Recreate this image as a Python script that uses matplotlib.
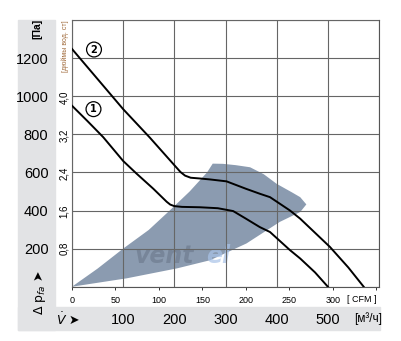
import matplotlib
matplotlib.use("Agg")
import matplotlib.pyplot as plt
from matplotlib.patches import Rectangle, Polygon

# characteristic curves, airflow in m3/h, pressure in Pa
curve1_q = [0, 30, 61, 100, 126, 159, 185, 192, 200, 215, 250, 285, 315, 340, 367, 387, 426, 446, 475, 500]
curve1_p = [950, 870, 785, 660, 594, 514, 446, 431, 423, 419, 417, 412, 397, 357, 313, 287, 192, 148, 75, 0]
curve2_q = [0, 50, 100, 152, 201, 212, 221, 232, 250, 270, 302, 340, 367, 387, 426, 446, 504, 540, 570]
curve2_p = [1248, 1090, 932, 783, 635, 602, 583, 572, 568, 563, 553, 514, 488, 470, 400, 357, 209, 101, 0]

# recommended operating range (shaded)
zone_q = [0, 50, 100, 150, 191, 230, 264, 275, 295, 320, 348, 375, 400, 430, 446, 458,
          446, 406, 341, 270, 205, 107, 0]
zone_p = [0, 95, 200, 298, 400, 500, 600, 646, 645, 638, 627, 590, 540, 495, 470, 432,
          392, 340, 227, 139, 96, 44, 0]

q_ticks = [0, 100, 200, 300, 400, 500, 600]
q_labels = ["", "100", "200", "300", "400", "500", ""]
pa_ticks = [0, 200, 400, 600, 800, 1000, 1200, 1400]
pa_labels = ["", "200", "400", "600", "800", "1000", "1200", ""]
in_ticks = [0.8, 1.6, 2.4, 3.2, 4.0]
in_labels = ["0,8", "1,6", "2,4", "3,2", "4,0"]
cfm_ticks = [0, 50, 100, 150, 200, 250, 300, 350]
cfm_labels = ["0", "50", "100", "150", "200", "250", "300", ""]

narrow = ["Liberation Sans Narrow", "Liberation Sans", "DejaVu Sans"]
W, H = 401, 341

fig = plt.figure(figsize=(W / 100, H / 100), dpi=100)

# grey side panel and bottom strip
grey = "#e2e3e5"
fig.patches.append(Rectangle((18 / W, 1 - 330 / H), 37 / W, 310 / H,
                             transform=fig.transFigure, color=grey, zorder=-5))
fig.patches.append(Rectangle((18 / W, 1 - 330 / H), 362 / W, 23 / H,
                             transform=fig.transFigure, color=grey, zorder=-5))

ax = fig.add_axes([72 / W, 1 - 286.7 / H, 307 / W, 266.7 / H])
ax.set_xlim(0, 600)
ax.set_ylim(0, 1400)

ax.add_patch(Polygon(list(zip(zone_q, zone_p)), closed=True,
                     facecolor="#8b9bb0", edgecolor="none", zorder=1))

# watermark
ax.text(123, 160, "vent", fontsize=17, fontweight="bold", style="italic",
        color="#303a48", alpha=0.22, va="center", zorder=2)
ax.text(262, 160, "el", fontsize=17, fontweight="bold", style="italic",
        color="#a9c3e8", alpha=0.7, va="center", zorder=2)

ax.plot(curve1_q, curve1_p, color="black", lw=1.4, zorder=4)
ax.plot(curve2_q, curve2_p, color="black", lw=1.4, zorder=4)

for q, p, s in [(43, 1245, "2"), (42, 932, "1")]:
    ax.text(q, p, s, fontsize=7, fontweight="bold", ha="center", va="center",
            zorder=5, bbox=dict(boxstyle="circle,pad=0.25", fc="white",
                                ec="black", lw=0.9))

ax.set_xticks(q_ticks)
ax.set_xticklabels(q_labels, family=narrow, fontsize=10.5)
ax.set_yticks(pa_ticks)
ax.set_yticklabels(pa_labels, family=narrow, fontsize=10.5)
ax.tick_params(axis="x", length=0, pad=19)
ax.tick_params(axis="y", length=0, pad=17)
ax.grid(True, color="#666666", lw=0.8, zorder=3)
ax.set_axisbelow(False)
for sp in ax.spines.values():
    sp.set_color("#555555")
    sp.set_linewidth(0.8)

# inches of water column
sec_y = ax.secondary_yaxis("left", functions=(lambda p: p / 249.089,
                                              lambda i: i * 249.089))
sec_y.set_yticks(in_ticks)
sec_y.set_yticklabels(in_labels, family=narrow, fontsize=7, rotation=90, va="center")
sec_y.tick_params(length=0, pad=2)
sec_y.spines["left"].set_visible(False)

# CFM
sec_x = ax.secondary_xaxis("bottom", functions=(lambda q: q / 1.699,
                                                lambda c: c * 1.699))
sec_x.set_xticks(cfm_ticks)
sec_x.set_xticklabels(cfm_labels, family=["Liberation Sans", "DejaVu Sans"],
                      fontsize=6.5)
sec_x.tick_params(length=2.5, width=0.7, pad=4, color="#333333")
sec_x.spines["bottom"].set_visible(False)

# axis captions
fig.text(362 / W, 1 - 300 / H, "[ CFM ]", family=["Liberation Sans", "DejaVu Sans"],
         fontsize=6.5, ha="center", va="center")
fig.text(368 / W, 1 - 319 / H, "[м³/ч]", family=narrow, fontsize=8.5,
         ha="center", va="center")
fig.text(68 / W, 1 - 319 / H, r"$\dot{V}$ ➤", fontsize=9, ha="center", va="center")
fig.text(37 / W, 1 - 29 / H, "[Па]", family=narrow, fontsize=7.5, fontweight="bold",
         rotation=90, ha="center", va="center")
fig.text(40 / W, 1 - 292 / H, r"Δ p$_{fa}$ ➤", fontsize=9, rotation=90,
         ha="center", va="center")
fig.text(65 / W, 1 - 46 / H, "[дюймы вод. ст]", family=narrow, fontsize=5,
         color="#a06a3a", rotation=90, ha="center", va="center")

fig.savefig("out.png", dpi=100)
